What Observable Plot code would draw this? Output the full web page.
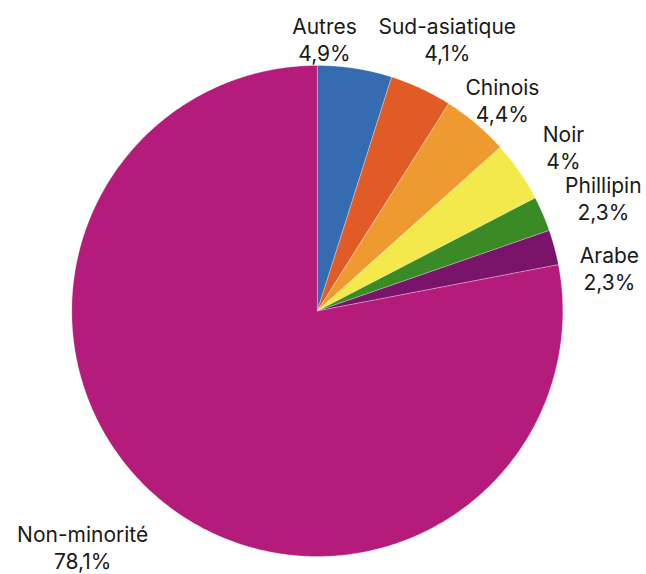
<!DOCTYPE html>
<html>
<head>
<meta charset="utf-8">
<script src="https://cdn.jsdelivr.net/npm/d3@7"></script>
<script src="https://cdn.jsdelivr.net/npm/@observablehq/plot@0.6"></script>
<style>
  html, body { margin: 0; padding: 0; background: #fff; }
  #chart { width: 646px; height: 574px; }
</style>
</head>
<body>
<div id="chart"></div>
<script>
// ---- data ----
const categories = ["Autres", "Sud-asiatique", "Chinois", "Noir", "Phillipin", "Arabe", "Non-minorité"];
const values = [4.9, 4.1, 4.4, 4, 2.3, 2.3, 78.1];
const colors = ["#356bb1", "#e15b27", "#ef9a31", "#f3e94c", "#3a8a26", "#7a146a", "#b51b7b"];

// ---- label layout (angle shift in degrees from slice middle, radius in pie radii) ----
const labelAngleShift = [-7.3, 0.5, 0.9, 0.85, 1.7, 6.6, 5.3];
const labelRadius = [1.11, 1.23, 1.145, 1.206, 1.253, 1.203, 1.355];

// ---- geometry from data ----
const total = d3.sum(values);
let acc = 0;
const slices = categories.map((name, i) => {
  const a0 = acc / total * 2 * Math.PI;
  acc += values[i];
  const a1 = acc / total * 2 * Math.PI;
  return {name, value: values[i], a0, a1, i};
});

const polyPts = [];
for (const s of slices) {
  const n = Math.max(2, Math.ceil((s.a1 - s.a0) / (Math.PI / 360)));
  polyPts.push({name: s.name, x: 0, y: 0});
  for (let k = 0; k <= n; k++) {
    const a = s.a0 + (s.a1 - s.a0) * k / n;
    polyPts.push({name: s.name, x: Math.sin(a), y: Math.cos(a)});
  }
  polyPts.push({name: s.name, x: 0, y: 0});
}

const fmt = v => String(v).replace(".", ",") + "%";
const labels = slices.map(s => {
  const a = (s.a0 + s.a1) / 2 + labelAngleShift[s.i] * Math.PI / 180;
  const r = labelRadius[s.i];
  return {text: s.name + "\n" + fmt(s.value), x: r * Math.sin(a), y: r * Math.cos(a)};
});

const cx = 316.8, cy = 310.5, R = 245.5;

const chart = Plot.plot({
  width: 646,
  height: 574,
  margin: 0,
  style: {fontFamily: "Inter, 'Noto Sans', sans-serif", background: "white"},
  x: {domain: [-1, 1], range: [cx - R, cx + R], axis: null},
  y: {domain: [-1, 1], range: [cy + R, cy - R], axis: null},
  color: {domain: categories, range: colors},
  marks: [
    Plot.line(polyPts, {x: "x", y: "y", z: "name", fill: "name", stroke: "#ffffff", strokeWidth: 0.4, strokeOpacity: 0.7, curve: "linear"}),
    Plot.text(labels, {x: "x", y: "y", text: "text", fontSize: 21, lineHeight: 1.3, fill: "#1a1a1a", textAnchor: "middle", lineAnchor: "middle"})
  ]
});
document.getElementById("chart").appendChild(chart);
</script>
</body>
</html>
